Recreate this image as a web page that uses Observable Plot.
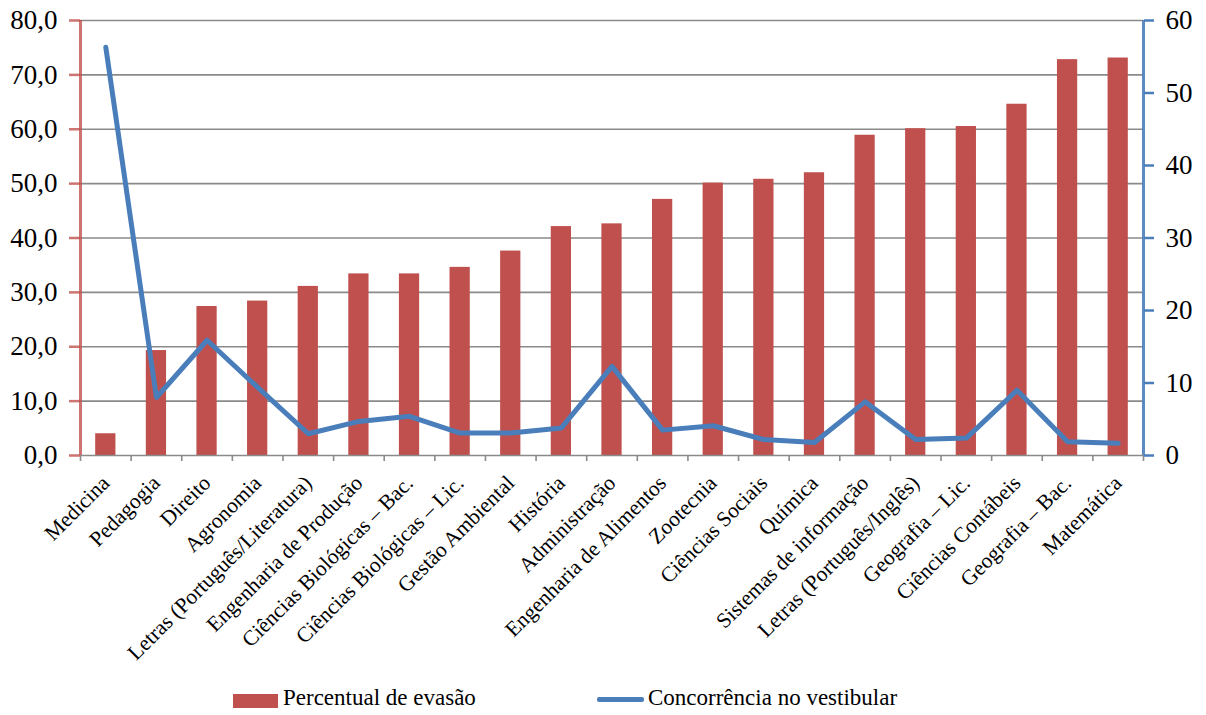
<!DOCTYPE html>
<html><head><meta charset="utf-8">
<script src="https://cdn.jsdelivr.net/npm/d3@7"></script>
<script src="https://cdn.jsdelivr.net/npm/@observablehq/plot@0.6"></script>
</head>
<body style="margin:0;background:#fff">
<div id="chart" style="position:relative;width:1206px;height:715px;overflow:hidden;font-family:'Liberation Serif', 'Times New Roman', Times"></div>
<script>
const cursos = ["Medicina","Pedagogia","Direito","Agronomia","Letras (Português/Literatura)","Engenharia de Produção","Ciências Biológicas – Bac.","Ciências Biológicas – Lic.","Gestão Ambiental","História","Administração","Engenharia de Alimentos","Zootecnia","Ciências Sociais","Química","Sistemas de informação","Letras (Português/Inglês)","Geografia – Lic.","Ciências Contábeis","Geografia – Bac.","Matemática"];
const evasao = [4.0,19.3,27.4,28.4,31.1,33.4,33.4,34.6,37.6,42.1,42.6,47.1,50.1,50.8,52.0,58.9,60.1,60.5,64.6,72.8,73.1];
const concorrencia = [56.3,8.0,15.9,9.4,3.0,4.7,5.4,3.1,3.1,3.8,12.3,3.5,4.1,2.2,1.8,7.4,2.2,2.4,9.0,1.9,1.7];
const leftTicks = [0,10,20,30,40,50,60,70,80];
const rightTicks = [0,10,20,30,40,50,60];
const leftMax = 80, rightMax = 60;

const data = cursos.map((c,i)=>({i, curso:c, evasao:evasao[i], conc:concorrencia[i]}));
const red = "#C0504D", blue = "#4A7EBB", grid = "#8a8a8a";
const k = leftMax/rightMax;
const serif = "'Liberation Serif', 'Times New Roman', Times";

const chart = Plot.plot({
  width:1206, height:680,
  marginTop:20, marginBottom:225, marginLeft:80, marginRight:63,
  style:{fontFamily:serif, background:"transparent", color:"#000"},
  x:{type:"linear", domain:[0,cursos.length]},
  y:{domain:[0,leftMax]},
  marks:[
    Plot.gridY(leftTicks.filter(d=>d>0), {stroke:grid, strokeOpacity:1, strokeWidth:1.6}),
    Plot.rectY(data, {x1:d=>d.i+0.3, x2:d=>d.i+0.7, y1:0, y2:"evasao", fill:red}),
    Plot.ruleY([0], {stroke:grid, strokeWidth:1.6}),
    Plot.axisX(d3.range(cursos.length+1), {tickFormat:()=>"", tickSize:6, stroke:grid, strokeWidth:1.6, label:null}),
    Plot.axisX(d3.range(cursos.length).map(i=>i+0.5), {tickFormat:d=>cursos[Math.floor(d)], tickSize:0, tickPadding:24, tickRotate:-45, fontSize:21.5, label:null}),
    Plot.axisY(leftTicks, {anchor:"left", tickFormat:d=>d.toFixed(1).replace(".",","), tickSize:11, tickPadding:12, stroke:red, strokeWidth:2.5, strokeOpacity:0.8, fontSize:27, label:null}),
    Plot.ruleX([0], {stroke:red, strokeWidth:3, strokeOpacity:0.8}),
    Plot.axisY(rightTicks.map(d=>d*k), {anchor:"right", tickFormat:d=>String(Math.round(d/k)), tickSize:10, tickPadding:12, stroke:blue, strokeWidth:2.5, fontSize:27, label:null}),
    Plot.ruleX([cursos.length], {stroke:blue, strokeWidth:3, strokeOpacity:0.9}),
    Plot.line(data, {x:d=>d.i+0.5, y:d=>d.conc*k, stroke:blue, strokeWidth:5, strokeLinejoin:"round", strokeLinecap:"round"})
  ]
});
chart.style.position = "absolute"; chart.style.left = "0px"; chart.style.top = "0px";
chart.setAttribute("font-family", serif);
chart.querySelectorAll("text, g").forEach(el => { el.setAttribute("font-family", serif); el.style.fontFamily = serif; });
const root = document.getElementById("chart");
root.appendChild(chart);

function box(css, text) {
  const el = document.createElement("div");
  el.setAttribute("style", css);
  if (text) el.textContent = text;
  root.appendChild(el);
}
const legText = "position:absolute;top:684px;font-size:23px;line-height:28px;color:#000;white-space:nowrap;font-family:" + serif + ";";
box(`position:absolute;left:233px;top:694px;width:45px;height:14px;background:${red}`);
box(legText + "left:283px;", "Percentual de evasão");
box(`position:absolute;left:597px;top:697px;width:47px;height:5px;background:${blue};border-radius:2px`);
box(legText + "left:648px;", "Concorrência no vestibular");
</script>
</body></html>
